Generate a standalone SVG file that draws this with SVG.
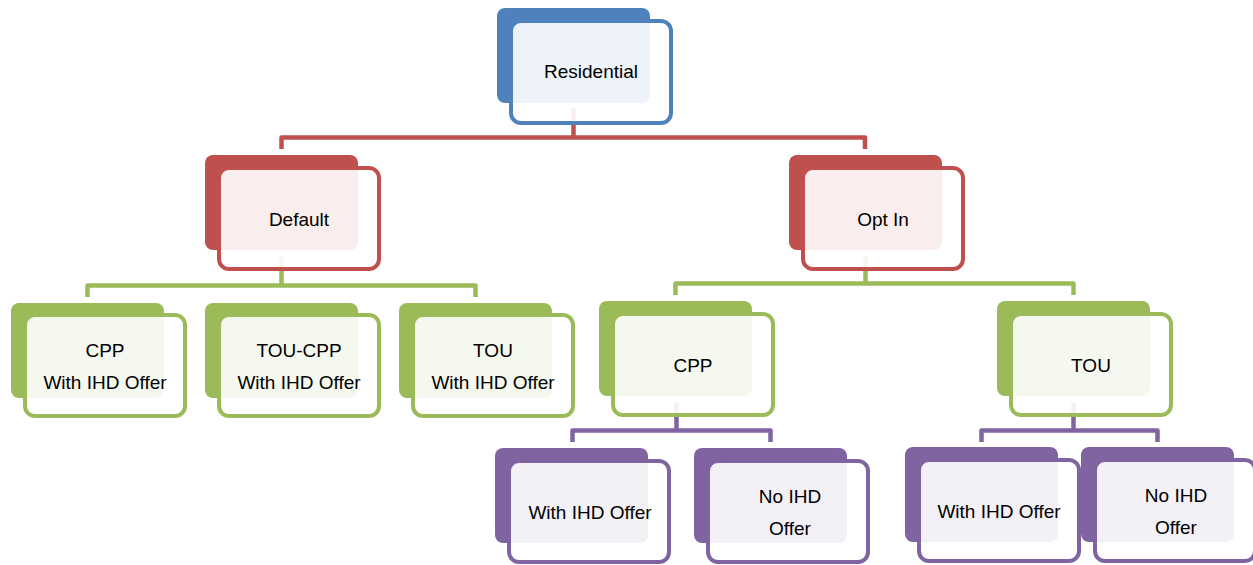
<svg xmlns="http://www.w3.org/2000/svg" width="1253" height="565" viewBox="0 0 1253 565">
<style>
.bg{stroke:none}
.fg{fill:#ffffff;fill-opacity:0.9;stroke-width:4}
.b .bg{fill:#4F81BD}.b .fg{stroke:#4F81BD}
.r .bg{fill:#C0504D}.r .fg{stroke:#C0504D}
.g .bg{fill:#9BBB59}.g .fg{stroke:#9BBB59}
.p .bg{fill:#8064A2}.p .fg{stroke:#8064A2}
text{font-family:"Liberation Sans",Arial,sans-serif;font-size:19px;fill:#000;text-anchor:middle}
.c{fill:none;stroke-width:4.5;stroke-linejoin:round}
</style>
<rect width="1253" height="565" fill="#ffffff"/>
<g id="connectors">
<path class="c" stroke="#C0504D" d="M281.5 149 V137.5 H865 V149 M573.5 108 V137.5"/>
<path class="c" stroke="#9BBB59" d="M87.5 297 V285.5 H475.5 V297 M281.5 257 V285.5"/>
<path class="c" stroke="#9BBB59" d="M675.5 295 V283.5 H1073.5 V295 M865.5 256 V283.5"/>
<path class="c" stroke="#8064A2" d="M572.5 442 V430.5 H770.5 V442 M676.5 403 V430.5"/>
<path class="c" stroke="#8064A2" d="M981.5 442 V430.5 H1157.5 V442 M1073.5 403 V430.5"/>
</g>
<g id="residential" class="b">
<rect class="bg" x="497" y="8" width="153" height="95" rx="8"/>
<rect class="fg" x="511" y="21" width="160" height="102" rx="10"/>
<text x="591" y="78">Residential</text>
</g>
<g id="default" class="r">
<rect class="bg" x="205" y="155" width="153" height="95" rx="8"/>
<rect class="fg" x="219" y="168" width="160" height="101" rx="10"/>
<text x="299" y="226">Default</text>
</g>
<g id="optin" class="r">
<rect class="bg" x="789" y="155" width="153" height="95" rx="8"/>
<rect class="fg" x="803" y="168" width="160" height="101" rx="10"/>
<text x="883" y="226">Opt In</text>
</g>
<g id="d-cpp" class="g">
<rect class="bg" x="11" y="303" width="153" height="95" rx="8"/>
<rect class="fg" x="25" y="315" width="160" height="101" rx="10"/>
<text x="105" y="357">CPP</text>
<text x="105" y="389">With IHD Offer</text>
</g>
<g id="d-toucpp" class="g">
<rect class="bg" x="205" y="303" width="153" height="95" rx="8"/>
<rect class="fg" x="219" y="315" width="160" height="101" rx="10"/>
<text x="299" y="357">TOU-CPP</text>
<text x="299" y="389">With IHD Offer</text>
</g>
<g id="d-tou" class="g">
<rect class="bg" x="399" y="303" width="153" height="95" rx="8"/>
<rect class="fg" x="413" y="315" width="160" height="101" rx="10"/>
<text x="493" y="357">TOU</text>
<text x="493" y="389">With IHD Offer</text>
</g>
<g id="o-cpp" class="g">
<rect class="bg" x="599" y="301" width="153" height="95" rx="8"/>
<rect class="fg" x="613" y="314" width="160" height="101" rx="10"/>
<text x="693" y="372">CPP</text>
</g>
<g id="o-tou" class="g">
<rect class="bg" x="997" y="301" width="153" height="95" rx="8"/>
<rect class="fg" x="1011" y="314" width="160" height="101" rx="10"/>
<text x="1091" y="372">TOU</text>
</g>
<g id="cpp-with" class="p">
<rect class="bg" x="495" y="448" width="153" height="95" rx="8"/>
<rect class="fg" x="509" y="461" width="160" height="101" rx="10"/>
<text x="590" y="519">With IHD Offer</text>
</g>
<g id="cpp-no" class="p">
<rect class="bg" x="694" y="448" width="153" height="95" rx="8"/>
<rect class="fg" x="708" y="461" width="160" height="101" rx="10"/>
<text x="790" y="503">No IHD</text>
<text x="790" y="535">Offer</text>
</g>
<g id="tou-with" class="p">
<rect class="bg" x="905" y="447" width="153" height="95" rx="8"/>
<rect class="fg" x="919" y="460" width="160" height="101" rx="10"/>
<text x="999" y="518">With IHD Offer</text>
</g>
<g id="tou-no" class="p">
<rect class="bg" x="1081" y="447" width="153" height="95" rx="8"/>
<rect class="fg" x="1095" y="460" width="160" height="101" rx="10"/>
<text x="1176" y="502">No IHD</text>
<text x="1176" y="534">Offer</text>
</g>
</svg>
